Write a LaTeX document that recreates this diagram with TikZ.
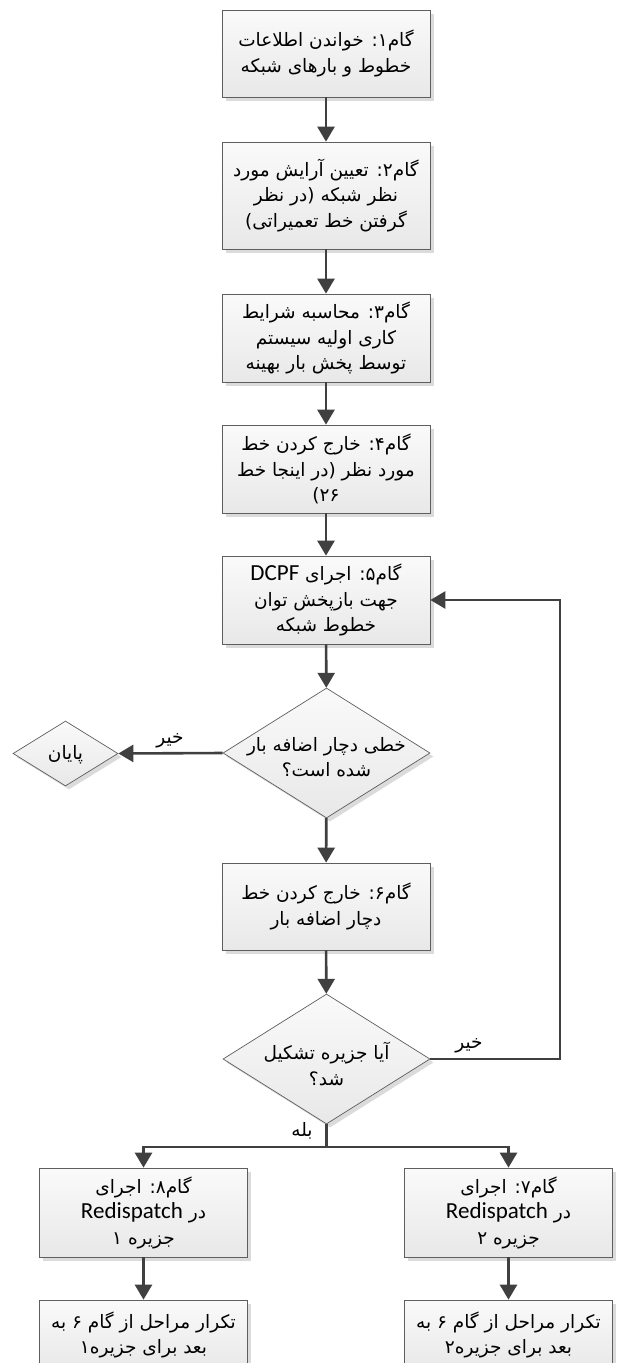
\documentclass[tikz,border=0pt]{standalone}
\usepackage{fontspec}
\usetikzlibrary{arrows.meta,shapes.geometric,shadows}
\TeXXeTstate=1
\newfontfamily\fafont[Script=Arabic]{DejaVu Sans}
\newfontfamily\dvfont{DejaVu Sans}
\newfontfamily\lafont{Carlito}
\newcommand{\pl}[1]{\beginR #1\endR}
\newcommand{\lt}[1]{\beginL{\lafont\fontsize{23}{25}\selectfont #1}\endL}
\definecolor{linec}{HTML}{404040}
\definecolor{bordc}{HTML}{5E5E5E}
\begin{document}
\begin{tikzpicture}[x=1pt,y=-1pt,
  shad/.style={drop shadow={shadow xshift=3.5pt,shadow yshift=-3.5pt,fill=black!14,opacity=1}},
  boxst/.style={draw=bordc, line width=0.7pt, top color=white!98!black, bottom color=white!91!black,
    shad, minimum width=208pt, inner sep=0pt, align=center,
    execute at begin node={\lineskiplimit=-30pt},
    font=\fafont\fontsize{18.5}{25.5}\selectfont},
  dia/.style={diamond, draw=bordc, line width=0.7pt, top color=white!98!black, bottom color=white!91!black,
    shad, inner sep=0pt},
  txt/.style={align=center, inner sep=0pt, execute at begin node={\lineskiplimit=-30pt},
    font=\fafont\fontsize{18.5}{25.5}\selectfont},
  arr/.style={draw=linec, line width=2.6pt, -{Triangle[length=15pt,width=17pt]}},
  ln/.style={draw=linec, line width=2.6pt}]
\useasboundingbox (0,0) rectangle (616,1363);
\clip (0,0) rectangle (616,1363);
\fill[white] (0,0) rectangle (616,1363);

\node[boxst, minimum height=87pt] (b1) at (326,53.5)
  {\pl{گام۱: خواندن اطلاعات}\\\pl{خطوط و بارهای شبکه}};
\node[boxst, minimum height=107pt] (b2) at (326,195.5)
  {\pl{گام۲: تعیین آرایش مورد}\\\pl{نظر شبکه (در نظر}\\\pl{گرفتن خط تعمیراتی)}};
\node[boxst, minimum height=88pt] (b3) at (326,338)
  {\pl{گام۳: محاسبه شرایط}\\\pl{کاری اولیه سیستم}\\\pl{توسط پخش بار بهینه}};
\node[boxst, minimum height=88pt] (b4) at (326,469)
  {\pl{گام۴: خارج کردن خط}\\\pl{مورد نظر (در اینجا خط}\\\hbox{\dvfont(}\hbox{۲۶}};
\node[boxst, minimum height=88pt] (b5) at (326,600)
  {\pl{گام۵: اجرای \lt{DCPF}}\\\pl{جهت بازپخش توان}\\\pl{خطوط شبکه}};

\node[dia, minimum width=207pt, minimum height=130pt] (d1) at (326.5,753) {};
\node[txt] (d1t) at (326.5,757) {\pl{خطی دچار اضافه بار}\\\pl{شده است؟}};

\node[dia, minimum width=105pt, minimum height=65pt] (end) at (65.5,753.5) {};
\node[txt] (endt) at (65.5,755) {\pl{پایان}};

\node[boxst, minimum height=87pt] (b6) at (326,906.5)
  {\pl{گام۶: خارج کردن خط}\\\pl{دچار اضافه بار}};

\node[dia, minimum width=207pt, minimum height=130pt] (d2) at (326.5,1059) {};
\node[txt] (d2t) at (326.5,1064) {\pl{آیا جزیره تشکیل}\\\pl{شد؟}};

\node[boxst, minimum height=89pt] (b8) at (143.5,1212.5)
  {\pl{گام۸: اجرای}\\\pl{در \lt{Redispatch}}\\\pl{جزیره ۱}};
\node[boxst, minimum height=89pt] (b7) at (508.5,1212.5)
  {\pl{گام۷: اجرای}\\\pl{در \lt{Redispatch}}\\\pl{جزیره ۲}};

\node[boxst, minimum height=70pt] (r8) at (143.5,1335)
  {\pl{تکرار مراحل از گام ۶ به}\\\pl{بعد برای جزیره۱}};
\node[boxst, minimum height=70pt] (r7) at (508.5,1335)
  {\pl{تکرار مراحل از گام ۶ به}\\\pl{بعد برای جزیره۲}};

\draw[arr] (b1) -- (b2);
\draw[arr] (b2) -- (b3);
\draw[arr] (b3) -- (b4);
\draw[arr] (b4) -- (b5);
\draw[arr] (b5) -- (d1);
\draw[arr] (d1.west) -- (end.east);
\node[txt] (no1) at (170,741) {\pl{خیر}};
\draw[arr] (d1) -- (b6);
\draw[arr] (b6) -- (d2);

\coordinate (lp) at (560,1059);
\draw[arr] (d2.east) -- (lp) |- (b5.east);
\node[txt] (no2) at (469,1046) {\pl{خیر}};

\coordinate (br) at (326.5,1147);
\draw[ln] (d2.south) -- (br);
\draw[arr] (br) -| (b8.north);
\draw[arr] (br) -| (b7.north);
\node[txt] (yes) at (302,1131) {\pl{بله}};

\draw[arr] (b8) -- (r8);
\draw[arr] (b7) -- (r7);
\end{tikzpicture}
\end{document}
